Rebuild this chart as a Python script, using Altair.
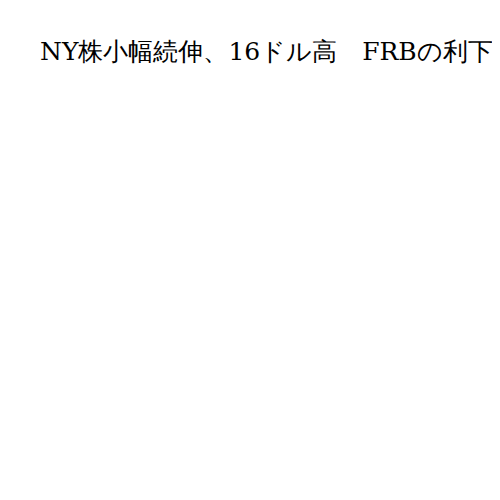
import altair as alt
import pandas as pd

headline = ["NY株小幅続伸、16ドル高　FRBの利下げ観測"]

df = pd.DataFrame({"headline": headline})

chart = (
    alt.Chart(df)
    .mark_text(
        align="left",
        baseline="alphabetic",
        font="DejaVu Serif",
        fontSize=25,
        color="#000000",
    )
    .encode(x=alt.value(32), y=alt.value(52), text="headline:N")
    .properties(
        width=484,
        height=484,
        padding=0,
        autosize=alt.AutoSizeParams(type="none"),
    )
    .configure_view(stroke=None)
)

chart.save("out.html", embed_options={"renderer": "svg", "actions": False})
